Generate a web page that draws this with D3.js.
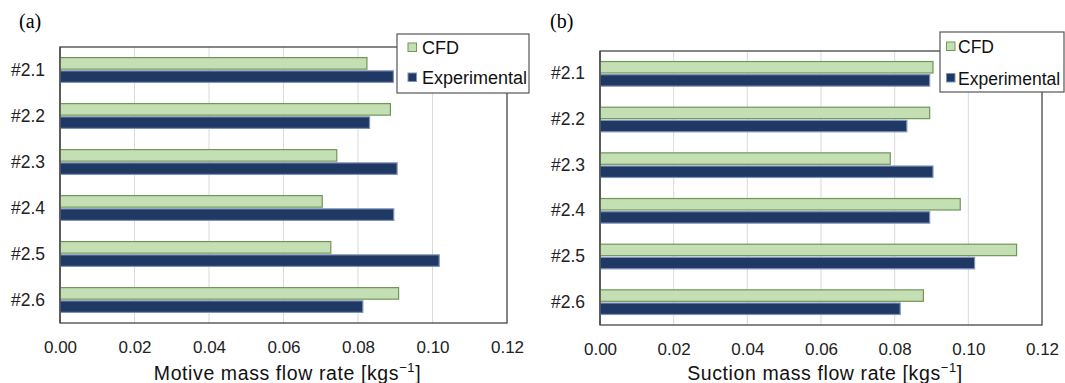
<!DOCTYPE html>
<html>
<head>
<meta charset="utf-8">
<script src="https://cdn.jsdelivr.net/npm/d3@7"></script>
<style>
  html, body { margin: 0; padding: 0; background: #fff; }
  svg { display: block; font-family: "Liberation Sans", Arial, sans-serif; }
</style>
</head>
<body>
<svg id="chart" width="1065" height="383"></svg>
<script>
// Test cases and measured / simulated mass flow rates [kg/s]
const cases = ["#2.1", "#2.2", "#2.3", "#2.4", "#2.5", "#2.6"];
const seriesNames = ["CFD", "Experimental"];

const motiveCFD = [0.0824, 0.0887, 0.0743, 0.0704, 0.0727, 0.0909];
const motiveExp = [0.0895, 0.0831, 0.0905, 0.0896, 0.1018, 0.0813];

const suctionCFD = [0.0904, 0.0895, 0.0788, 0.0978, 0.1131, 0.0878];
const suctionExp = [0.0895, 0.0833, 0.0904, 0.0895, 0.1017, 0.0815];

const xTicks = [0, 0.02, 0.04, 0.06, 0.08, 0.10, 0.12];

const colors = {
  CFD: { fill: "#c4dfb3", stroke: "#72955a" },
  Experimental: { fill: "#203864", stroke: "#7f92b8" }
};

const svg = d3.select("#chart");

function drawPanel(cfg) {
  const g = svg.append("g");
  const x = d3.scaleLinear().domain([0, 0.12]).range([cfg.left, cfg.right]);
  const y = d3.scaleBand().domain(cases).range([cfg.top, cfg.bottom]);
  const ySub = d3.scaleBand().domain(seriesNames).range([0, y.bandwidth()])
    .paddingInner(0.13).paddingOuter(0.8);

  // panel tag
  g.append("text")
    .attr("x", cfg.tagX).attr("y", 28)
    .attr("font-family", "'Liberation Serif', 'Times New Roman', serif")
    .attr("font-size", 20).attr("fill", "#000")
    .text(cfg.tag);

  // vertical gridlines
  g.append("g").selectAll("line").data(xTicks.slice(1, -1)).join("line")
    .attr("x1", d => x(d)).attr("x2", d => x(d))
    .attr("y1", cfg.top).attr("y2", cfg.bottom)
    .attr("stroke", "#d9d9d9").attr("stroke-width", 1);

  // plot frame
  g.append("rect")
    .attr("x", cfg.left).attr("y", cfg.top)
    .attr("width", cfg.right - cfg.left).attr("height", cfg.bottom - cfg.top)
    .attr("fill", "none").attr("stroke", "#454545").attr("stroke-width", 1.3);

  // bars
  const rows = cases.map((c, i) => ({ c, CFD: cfg.cfd[i], Experimental: cfg.exp[i] }));
  const bandG = g.append("g").selectAll("g").data(rows).join("g")
    .attr("transform", d => `translate(0,${y(d.c)})`);
  bandG.selectAll("rect")
    .data(d => seriesNames.map(s => ({ s, v: d[s] })))
    .join("rect")
    .attr("x", x(0))
    .attr("y", d => ySub(d.s))
    .attr("width", d => x(d.v) - x(0))
    .attr("height", ySub.bandwidth())
    .attr("fill", d => colors[d.s].fill)
    .attr("stroke", d => colors[d.s].stroke)
    .attr("stroke-width", 1.2);

  // left axis line redrawn over bar edges
  g.append("line")
    .attr("x1", cfg.left).attr("x2", cfg.left)
    .attr("y1", cfg.top).attr("y2", cfg.bottom)
    .attr("stroke", "#454545").attr("stroke-width", 1.3);

  // category labels
  const yAxis = d3.axisLeft(y).tickSize(0).tickPadding(15);
  const ya = g.append("g").attr("transform", `translate(${cfg.left},0)`).call(yAxis);
  ya.select(".domain").remove();
  ya.selectAll("text").attr("font-size", 17.5).attr("fill", "#222")
    .attr("font-family", "'Liberation Sans', Arial, sans-serif");

  // x axis tick labels
  const xAxis = d3.axisBottom(x).tickValues(xTicks).tickFormat(d3.format(".2f"))
    .tickSize(0).tickPadding(18);
  const xa = g.append("g").attr("transform", `translate(0,${cfg.bottom})`).call(xAxis);
  xa.select(".domain").remove();
  xa.selectAll("text").attr("font-size", 17).attr("fill", "#222")
    .attr("font-family", "'Liberation Sans', Arial, sans-serif");

  // axis title with superscript unit exponent
  const title = g.append("text")
    .attr("x", (cfg.left + cfg.right) / 2 + 4).attr("y", 380)
    .attr("text-anchor", "middle")
    .attr("letter-spacing", 0.6)
    .attr("font-size", 19.5).attr("fill", "#111");
  title.append("tspan").text(cfg.title + " [kgs");
  title.append("tspan").attr("dy", -8).attr("font-size", 13).text("\u22121");
  title.append("tspan").attr("dy", 8).text("]");

  // legend
  const lg = g.append("g").attr("transform", `translate(${cfg.legX},${cfg.legY})`);
  lg.append("rect").attr("width", cfg.legW).attr("height", cfg.legH)
    .attr("fill", "#fff").attr("stroke", "#555").attr("stroke-width", 1.2);
  seriesNames.forEach((s, i) => {
    const cy = cfg.legRow0 + i * cfg.legStep;
    lg.append("rect").attr("x", cfg.markX).attr("y", cy - 4).attr("width", 8.5).attr("height", 8.5)
      .attr("fill", colors[s].fill).attr("stroke", colors[s].stroke).attr("stroke-width", 1);
    lg.append("text").attr("x", cfg.textX).attr("y", cy + 7)
      .attr("font-size", cfg.legFont).attr("fill", "#111").text(s);
  });
}

drawPanel({
  tag: "(a)", tagX: 19,
  left: 60, right: 507, top: 47, bottom: 323,
  cfd: motiveCFD, exp: motiveExp,
  title: "Motive mass flow rate ",
  legX: 397, legY: 34, legW: 132, legH: 59,
  legRow0: 13, legStep: 30, markX: 11, textX: 25, legFont: 18
});

drawPanel({
  tag: "(b)", tagX: 550,
  left: 600, right: 1042, top: 51, bottom: 325,
  cfd: suctionCFD, exp: suctionExp,
  title: "Suction mass flow rate",
  legX: 940, legY: 32, legW: 124, legH: 60,
  legRow0: 14, legStep: 31.5, markX: 6.5, textX: 18, legFont: 17.5
});
</script>
</body>
</html>
